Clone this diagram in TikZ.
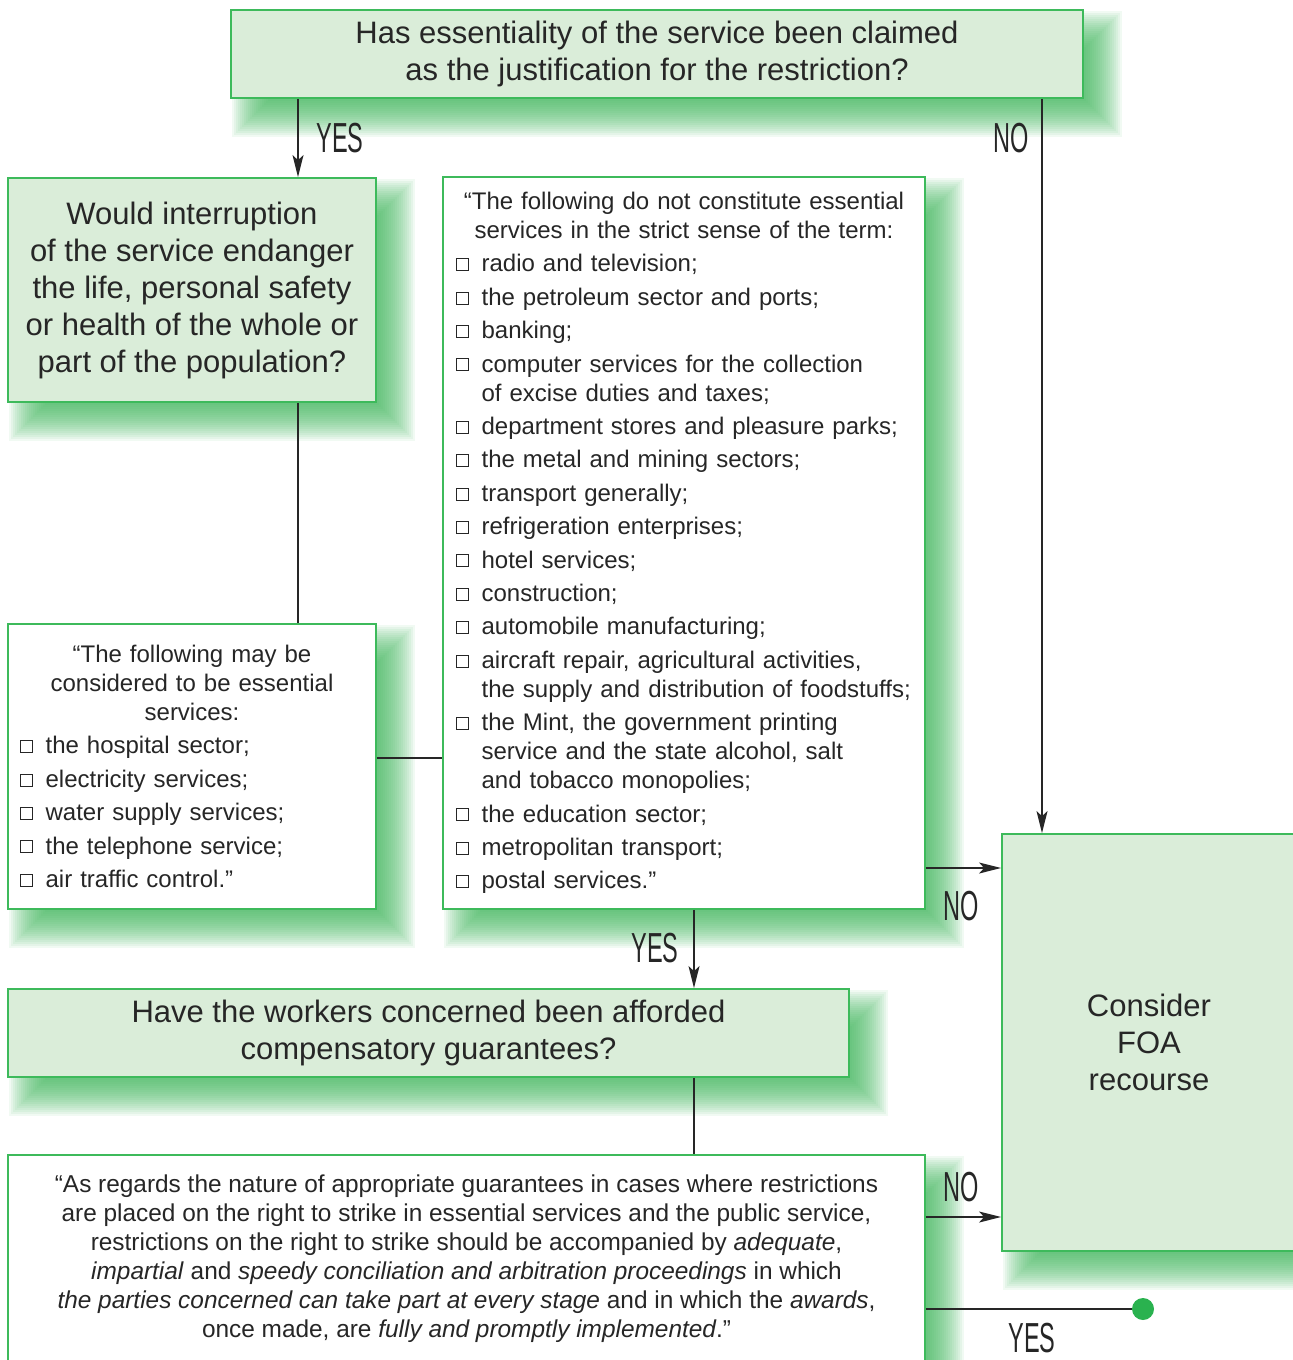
\documentclass[tikz,border=0pt]{standalone}
\usepackage{fontspec}
\setmainfont{Liberation Sans}
\usetikzlibrary{arrows.meta,backgrounds}
\definecolor{bgreen}{HTML}{3DBA5B}
\definecolor{lgreen}{HTML}{DAEDD9}
\definecolor{sgreen}{HTML}{38B255}
\definecolor{dgreen}{HTML}{2AB24F}
\definecolor{ink}{HTML}{262626}
\newcommand\cbox{\raisebox{0.9pt}{\fboxsep=0pt\fboxrule=0.4pt\fbox{\rule{0pt}{5.6pt}\rule{5.6pt}{0pt}}}}
\newcommand\itm[1]{\makebox[12.8pt][l]{\cbox}#1}
\newcommand\cnt[1]{\hspace*{12.8pt}#1}
\newcommand\hdr[2]{\makebox[#1][c]{#2}}
\newcommand\qfont{\fontsize{15.5}{18.5}\selectfont}
\newcommand\lfont{\fontsize{12}{14.5}\selectfont}
\newcommand\labfont{\fontsize{21}{21}\selectfont}
\newcommand\lbl[1]{\scalebox{0.56}[1]{#1}}
% soft green shadow behind a named node (offset 10pt, blur half-width 9pt)
\newcommand\softshadow[1]{%
  \foreach \e in {9,8,...,-9} {%
    \fill[sgreen, fill opacity=0.07]
      ([xshift={(10-\e)*1pt}, yshift={(-10+\e)*1pt}]#1.north west) rectangle
      ([xshift={(10+\e)*1pt}, yshift={(-10-\e)*1pt}]#1.south east);
  }}
\begin{document}
\begin{tikzpicture}[x=0.5pt,y=-0.5pt,
  every node/.style={text=ink},
  qbox/.style={draw=bgreen, line width=0.9pt, fill=lgreen, inner sep=0pt, align=center, font=\qfont},
  wbox/.style={draw=bgreen, line width=0.9pt, fill=white, inner sep=0pt},
  conn/.style={draw=ink, line width=0.75pt},
  arr/.style={conn, -{Stealth[length=11pt,width=5.5pt,inset=2.5pt]}},
  lab/.style={font=\labfont, inner sep=0pt}
]
\useasboundingbox (0,0) rectangle (1292,1360);

% boxes
\node[qbox, minimum width=426pt, minimum height=44pt] (q1) at (657,54)
  {Has essentiality of the service been claimed\\as the justification for the restriction?};
\node[qbox, minimum width=184pt, minimum height=112pt] (q2) at (192,290)
  {Would interruption\\of the service endanger\\the life, personal safety\\or health of the whole or\\part of the population?};
\node[wbox, minimum width=184pt, minimum height=142.5pt, text width=172pt, align=left, font=\lfont] (b3) at (192,766.5)
  {\hdr{172pt}{“The following may be}\\
   \hdr{172pt}{considered to be essential}\\
   \hdr{172pt}{services:}\\[2.2pt]
   \itm{the hospital sector;}\\[2.2pt]
   \itm{electricity services;}\\[2.2pt]
   \itm{water supply services;}\\[2.2pt]
   \itm{the telephone service;}\\[2.2pt]
   \itm{air traffic control.”}};
\node[wbox, minimum width=241pt, minimum height=366pt, text width=228pt, align=left, font=\lfont] (b4) at (684,543)
  {\hdr{228pt}{“The following do not constitute essential}\\
   \hdr{228pt}{services in the strict sense of the term:}\\[2.2pt]
   \itm{radio and television;}\\[2.2pt]
   \itm{the petroleum sector and ports;}\\[2.2pt]
   \itm{banking;}\\[2.2pt]
   \itm{computer services for the collection}\\
   \cnt{of excise duties and taxes;}\\[2.2pt]
   \itm{department stores and pleasure parks;}\\[2.2pt]
   \itm{the metal and mining sectors;}\\[2.2pt]
   \itm{transport generally;}\\[2.2pt]
   \itm{refrigeration enterprises;}\\[2.2pt]
   \itm{hotel services;}\\[2.2pt]
   \itm{construction;}\\[2.2pt]
   \itm{automobile manufacturing;}\\[2.2pt]
   \itm{aircraft repair, agricultural activities,}\\
   \cnt{the supply and distribution of foodstuffs;}\\[2.2pt]
   \itm{the Mint, the government printing}\\
   \cnt{service and the state alcohol, salt}\\
   \cnt{and tobacco monopolies;}\\[2.2pt]
   \itm{the education sector;}\\[2.2pt]
   \itm{metropolitan transport;}\\[2.2pt]
   \itm{postal services.”}};
\node[qbox, minimum width=420.5pt, minimum height=44pt] (q5) at (428.5,1033)
  {Have the workers concerned been afforded\\compensatory guarantees?};
\node[qbox, minimum width=147pt, minimum height=208.5pt] (fo) at (1149,1042.5)
  {Consider\\FOA\\recourse};
\node[wbox, minimum width=458.5pt, minimum height=103.5pt, align=center, font=\fontsize{12.2}{14.5}\selectfont] (b6) at (466.5,1258.5)
  {“As regards the nature of appropriate guarantees in cases where restrictions\\
   are placed on the right to strike in essential services and the public service,\\
   restrictions on the right to strike should be accompanied by \textit{adequate},\\
   \textit{impartial} and \textit{speedy conciliation and arbitration proceedings} in which\\
   \textit{the parties concerned can take part at every stage} and in which the \textit{awards},\\
   once made, are \textit{fully and promptly implemented}.”};
\node[circle, fill=dgreen, minimum size=11pt, inner sep=0pt] (dot) at (1143,1309) {};

% shadows
\begin{scope}[on background layer]
  \softshadow{q1}\softshadow{q2}\softshadow{b3}\softshadow{b4}
  \softshadow{q5}\softshadow{fo}\softshadow{b6}
\end{scope}

% helper coordinates
\coordinate (xA) at (298,0);
\coordinate (xB) at (1042,0);
\coordinate (xC) at (694,0);
\coordinate (yD) at (0,758);
\coordinate (yE) at (0,868);
\coordinate (yF) at (0,1217);

% connectors
\draw[arr] (q1.south -| xA) -- (q2.north -| xA);
\draw[arr] (q1.south -| xB) -- (fo.north -| xB);
\draw[conn] (q2.south -| xA) -- (b3.north -| xA);
\draw[conn] (b3.east |- yD) -- (b4.west |- yD);
\draw[arr] (b4.east |- yE) -- (fo.west |- yE);
\draw[arr] (b4.south -| xC) -- (q5.north -| xC);
\draw[conn] (q5.south -| xC) -- (b6.north -| xC);
\draw[arr] (b6.east |- yF) -- (fo.west |- yF);
\draw[conn] (b6.east |- dot) -- (dot);

% labels
\node[lab] (l1) at (340,138) {\lbl{YES}};
\node[lab] (l2) at (1011,138) {\lbl{NO}};
\node[lab] (l3) at (961,906) {\lbl{NO}};
\node[lab] (l4) at (655,948) {\lbl{YES}};
\node[lab] (l5) at (961,1187) {\lbl{NO}};
\node[lab] (l6) at (1032,1338) {\lbl{YES}};
\end{tikzpicture}
\end{document}
